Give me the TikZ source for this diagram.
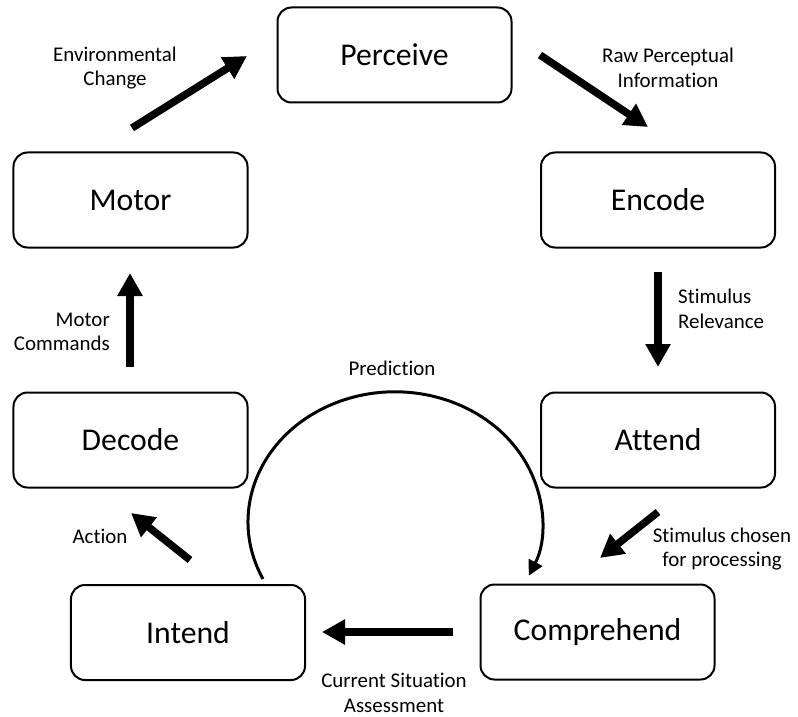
\documentclass[tikz,border=0pt]{standalone}
\usepackage{fontspec}
\setmainfont{Carlito}[Ligatures=NoCommon]
\usetikzlibrary{arrows.meta}

\tikzset{
  stage/.style={draw=black, line width=2bp, rounded corners=14bp,
    minimum width=234bp, minimum height=95bp, inner sep=0pt,
    font=\fontsize{31.8}{38}\selectfont},
  flowlabel/.style={inner sep=0pt, font=\fontsize{21}{24.5}\selectfont},
  bigarrow/.style={line width=7.5bp, -{Triangle[length=23bp,width=24bp]}},
  predarrow/.style={line width=3bp, -{Triangle[length=15bp,width=15bp]}}
}

\begin{document}
\begin{tikzpicture}[x=1bp, y=-1bp]
\useasboundingbox (0,0) rectangle (798,717);

% stages of the cycle
\node[stage] (perceive)   at (394.5,55)  {Perceive};
\node[stage] (encode)     at (658,200)   {Encode};
\node[stage] (attend)     at (658,440)   {Attend};
\node[stage] (comprehend) at (597.5,632) {Comprehend};
\node[stage] (intend)     at (188,632.5) {Intend};
\node[stage] (decode)     at (130.5,440) {Decode};
\node[stage] (motor)      at (130.5,200) {Motor};

% free ends of the transition arrows
\coordinate (envA)  at (132,128); \coordinate (envB)  at (247,56);
\coordinate (rawA)  at (540,55);  \coordinate (rawB)  at (648,127);
\coordinate (relA)  at (658,272); \coordinate (relB)  at (658,367);
\coordinate (chA)   at (658,512); \coordinate (chB)   at (600,558);
\coordinate (curA)  at (453,632); \coordinate (curB)  at (322,632);
\coordinate (actA)  at (190,560); \coordinate (actB)  at (131,513);
\coordinate (cmdA)  at (130,367); \coordinate (cmdB)  at (130,273);

\draw[bigarrow] (envA) -- (envB);
\draw[bigarrow] (rawA) -- (rawB);
\draw[bigarrow] (relA) -- (relB);
\draw[bigarrow] (chA)  -- (chB);
\draw[bigarrow] (curA) -- (curB);
\draw[bigarrow] (actA) -- (actB);
\draw[bigarrow] (cmdA) -- (cmdB);

% prediction loop from Intend back to Comprehend
\coordinate (predFrom) at (263,579);
\draw[predarrow] (predFrom) arc[start angle=153.9, end angle=384.5, x radius=147, y radius=130];

% arrow labels
\node[flowlabel, align=center] (envL) at (115,68) {Environmental\\Change};
\node[flowlabel, align=center] (rawL) at (668,68) {Raw Perceptual\\Information};
\node[flowlabel, align=left, anchor=west] (relL) at (678,309) {Stimulus\\Relevance};
\node[flowlabel, align=center] (chL) at (722,549) {Stimulus chosen\\for processing};
\node[flowlabel, align=center] (curL) at (394,693) {Current Situation\\Assessment};
\node[flowlabel] (actL) at (100,536) {Action};
\node[flowlabel, align=right, anchor=east] (cmdL) at (110,332) {Motor\\Commands};
\node[flowlabel] (predL) at (392,368) {Prediction};

\end{tikzpicture}
\end{document}
